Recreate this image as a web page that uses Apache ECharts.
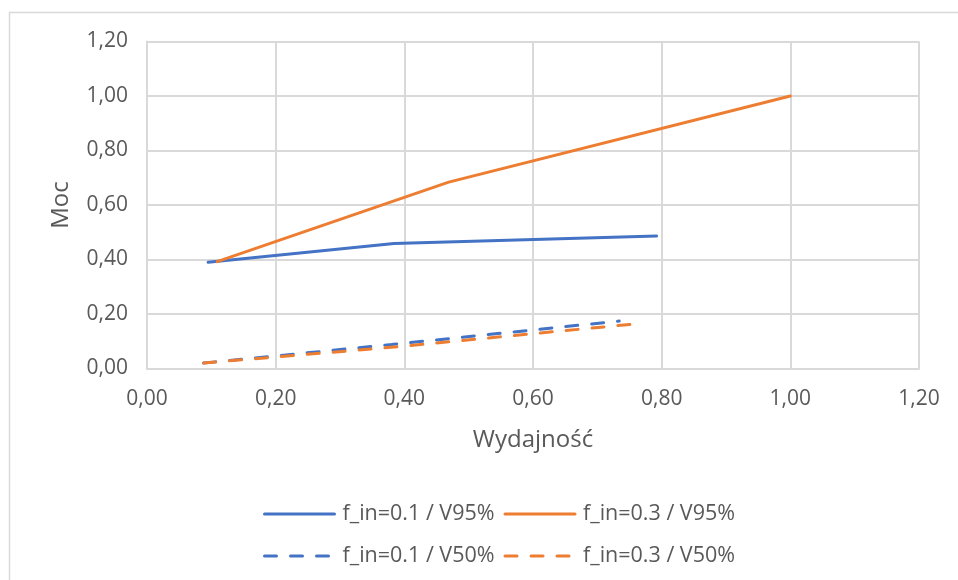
<!DOCTYPE html>
<html>
<head>
<meta charset="utf-8">
<script src="https://cdn.jsdelivr.net/npm/echarts@6/dist/echarts.min.js"></script>
<style>
html,body{margin:0;padding:0;background:#fff;}
#c{width:958px;height:580px;}
</style>
</head>
<body>
<div id="c"></div>
<script>
const seriesNames = ['f_in=0.1 / V95%', 'f_in=0.3 / V95%', 'f_in=0.1 / V50%', 'f_in=0.3 / V50%'];
const blue95 = [[0.095, 0.39], [0.384, 0.459], [0.792, 0.486]];
const orange95 = [[0.109, 0.392], [0.469, 0.684], [1.0, 1.0]];
const blue50 = [[0.088, 0.02], [0.38, 0.088], [0.734, 0.174]];
const orange50 = [[0.088, 0.02], [0.39, 0.08], [0.76, 0.164]];
const xTicks = [0, 1.2, 0.2];
const yTicks = [0, 1.2, 0.2];

const fmt = v => v.toFixed(2).replace('.', ',');
const BLUE = '#4472C4', ORANGE = '#ED7D31', GRID = '#d9d9d9', TXT = '#595959';
const FONT = 'Open Sans';

const chart = echarts.init(document.getElementById('c'));
function mk(name, data, color, dashed) {
  return {
    name, type: 'line', data, symbol: 'none', smooth: false,
    lineStyle: { color, width: 3, type: dashed ? [12, 14] : 'solid', cap: 'round' },
    itemStyle: { color }
  };
}
const legendCommon = {
  left: 258, itemWidth: 70, itemHeight: 14, itemGap: 9,
  itemStyle: { opacity: 0 },
  lineStyle: { width: 3 },
  textStyle: { color: TXT, fontSize: 21.5, fontFamily: FONT, padding: [0, 0, 0, 3] }
};
chart.setOption({
  animation: false,
  textStyle: { fontFamily: FONT },
  graphic: [{
    type: 'rect', shape: { x: 9.5, y: 12.5, width: 1000, height: 700 },
    style: { fill: 'none', stroke: GRID, lineWidth: 1.5 }, silent: true
  }],
  grid: { left: 147, right: 39, top: 41.5, bottom: 211.5, containLabel: false },
  xAxis: {
    type: 'value', min: xTicks[0], max: xTicks[1], interval: xTicks[2],
    name: 'Wydajność', nameLocation: 'middle', nameGap: 60,
    nameTextStyle: { color: TXT, fontSize: 24, fontFamily: FONT },
    axisLine: { show: true, lineStyle: { color: GRID, width: 2 } },
    axisTick: { show: false },
    axisLabel: { color: TXT, fontSize: 21, margin: 20, formatter: fmt, fontFamily: FONT },
    splitLine: { show: true, lineStyle: { color: GRID, width: 2 } }
  },
  yAxis: {
    type: 'value', min: yTicks[0], max: yTicks[1], interval: yTicks[2],
    name: 'Moc', nameLocation: 'middle', nameGap: 74, nameRotate: 90,
    nameTextStyle: { color: TXT, fontSize: 24, fontFamily: FONT },
    axisLine: { show: true, lineStyle: { color: GRID, width: 2 } },
    axisTick: { show: false },
    axisLabel: { color: TXT, fontSize: 21, margin: 19, formatter: fmt, fontFamily: FONT },
    splitLine: { show: true, lineStyle: { color: GRID, width: 2 } }
  },
  legend: [
    Object.assign({ data: [seriesNames[0], seriesNames[1]], top: 498 }, legendCommon),
    Object.assign({ data: [seriesNames[2], seriesNames[3]], top: 540 }, legendCommon)
  ],
  series: [
    mk(seriesNames[0], blue95, BLUE, false),
    mk(seriesNames[1], orange95, ORANGE, false),
    mk(seriesNames[2], blue50, BLUE, true),
    mk(seriesNames[3], orange50, ORANGE, true)
  ]
});
</script>
</body>
</html>
